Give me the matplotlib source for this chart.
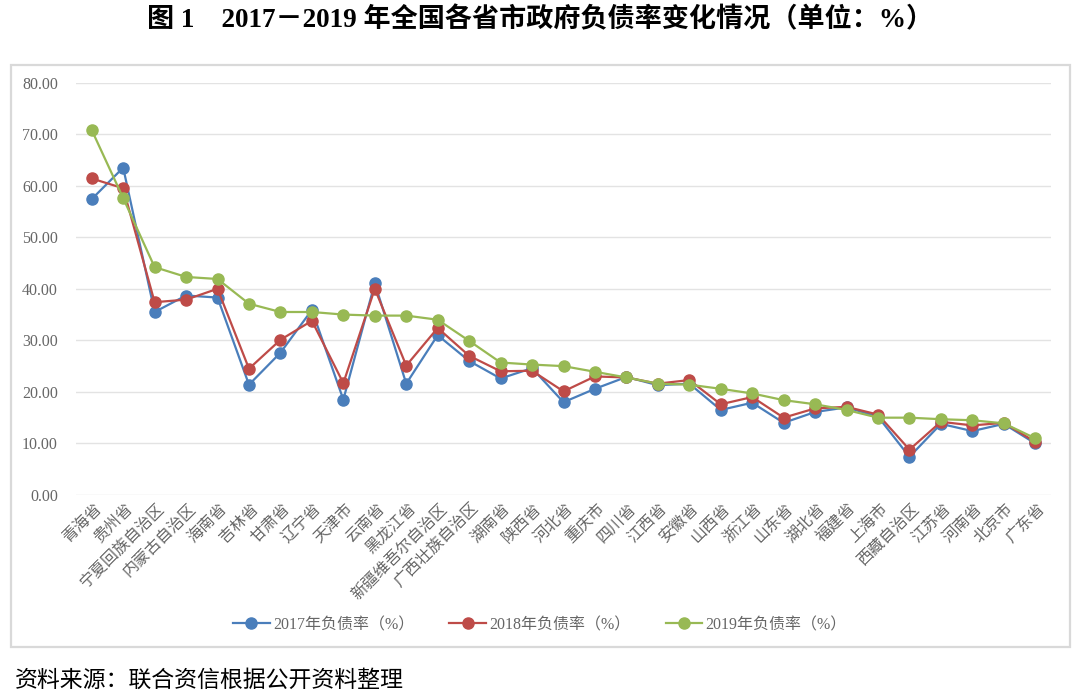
import numpy as np
import matplotlib
matplotlib.use("Agg")
import matplotlib.pyplot as plt
import matplotlib.transforms as mtrans
from matplotlib.patches import Rectangle

# ── 数据 ─────────────────────────────────────────────────────────────────────
provinces = ["青海省", "贵州省", "宁夏回族自治区", "内蒙古自治区", "海南省", "吉林省",
             "甘肃省", "辽宁省", "天津市", "云南省", "黑龙江省", "新疆维吾尔自治区",
             "广西壮族自治区", "湖南省", "陕西省", "河北省", "重庆市", "四川省", "江西省",
             "安徽省", "山西省", "浙江省", "山东省", "湖北省", "福建省", "上海市",
             "西藏自治区", "江苏省", "河南省", "北京市", "广东省"]
rate_2017 = [57.4, 63.5, 35.5, 38.7, 38.3, 21.4, 27.6, 35.9, 18.5, 41.1, 21.6, 31.0,
             26.0, 22.6, 24.6, 18.0, 20.6, 22.9, 21.3, 21.6, 16.5, 17.9, 14.0, 16.1,
             17.0, 15.2, 7.4, 13.8, 12.4, 13.8, 10.0]
rate_2018 = [61.4, 59.5, 37.4, 37.9, 40.0, 24.5, 30.1, 33.8, 21.7, 40.0, 25.1, 32.4,
             27.0, 24.0, 24.1, 20.1, 23.0, 22.8, 21.6, 22.3, 17.6, 19.0, 15.0, 16.8,
             17.1, 15.6, 8.8, 14.2, 13.5, 14.0, 10.3]
rate_2019 = [70.8, 57.6, 44.2, 42.3, 41.9, 37.1, 35.5, 35.5, 35.0, 34.8, 34.8, 34.0,
             29.9, 25.7, 25.3, 25.0, 23.9, 22.8, 21.6, 21.4, 20.6, 19.7, 18.4, 17.6,
             16.5, 15.0, 15.0, 14.7, 14.5, 13.9, 11.0]
series_labels = ["2017年负债率（%）", "2018年负债率（%）", "2019年负债率（%）"]
yticks = np.arange(0, 81, 10)

COLORS = ["#4A7EBB", "#BE4B48", "#98B954"]
GRID = "#E3E3E3"
TXT = "#666666"
MIX = ["Liberation Serif", "Noto Sans CJK SC"]
CJK = ["Noto Sans CJK SC", "Liberation Serif"]

plt.rcParams["font.family"] = MIX

fig = plt.figure(figsize=(10.8, 6.96), dpi=100)
ax = fig.add_axes([76/1080, 1-495/696, 975/1080, (495-82.6)/696])

x = np.arange(len(provinces))
for vals, col, lab in zip([rate_2017, rate_2018, rate_2019], COLORS, series_labels):
    ax.plot(x, vals, color=col, lw=1.6, marker="o", ms=8, mec=col, mfc=col,
            label=lab, zorder=3)

ax.set_xlim(-0.5, len(provinces) - 0.5)
ax.set_ylim(0, 80)
ax.set_yticks(yticks)
ax.set_yticklabels([f"{v:.2f}" for v in yticks], fontsize=11.5, color=TXT,
                   family="Liberation Serif")
ax.yaxis.grid(True, color=GRID, lw=1.0)
ax.set_axisbelow(True)
for s in ax.spines.values():
    s.set_visible(False)
ax.tick_params(axis="y", length=0, pad=13)
ax.tick_params(axis="x", length=0, pad=4)
ax.set_xticks(x)
ax.set_xticklabels(provinces, rotation=45, ha="right", va="center",
                   rotation_mode="anchor", fontsize=11.5, color=TXT, family=CJK)
off = mtrans.ScaledTranslation(5/72, -4/72, fig.dpi_scale_trans)
for t in ax.get_xticklabels():
    t.set_transform(t.get_transform() + off)

fig.legend(loc="center", bbox_to_anchor=(0.5, 1-625/696), ncol=3, frameon=False,
           fontsize=11.5, handlelength=2.3, handletextpad=0.2, columnspacing=2.2,
           labelcolor=TXT)

# 图框
fig.patches.append(Rectangle((11/1080, 1-647/696), 1059/1080, 582/696,
                             transform=fig.transFigure, fill=False,
                             edgecolor="#D9D9D9", lw=1.6, zorder=0))

fig.text(0.5, 1-20/696, "图 1　2017－2019 年全国各省市政府负债率变化情况（单位：%）",
         ha="center", va="center", fontsize=19.5, fontweight="bold", color="black",
         family=MIX)
fig.text(15/1080, 1-680/696, "资料来源：联合资信根据公开资料整理", ha="left",
         va="center", fontsize=16.5, color="black", family=CJK)

fig.savefig("out.png", dpi=100, facecolor="white")
